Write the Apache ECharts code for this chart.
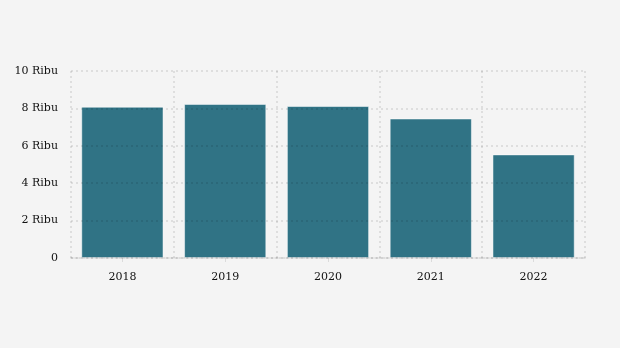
<!DOCTYPE html>
<html><head><meta charset="utf-8">
<script src="https://cdn.jsdelivr.net/npm/echarts@6/dist/echarts.min.js"></script>
<style>html,body{margin:0;padding:0;background:#f4f4f4;}#c{width:620px;height:348px;}</style>
</head><body><div id="c"></div>
<script>
const categories = ['2018', '2019', '2020', '2021', '2022'];
const values = [8090, 8240, 8130, 7460, 5540];
const yTicks = [0, 2000, 4000, 6000, 8000, 10000];

const chart = echarts.init(document.getElementById('c'), null, {renderer: 'canvas'});
const font = '"DejaVu Serif", serif';
chart.setOption({
  backgroundColor: '#f4f4f4',
  animation: false,
  grid: {left: 71, right: 35, top: 71, bottom: 90},
  xAxis: {
    type: 'category', data: categories, z: 3,
    axisLine: {show: true, lineStyle: {color: 'rgba(0,0,0,0.13)', type: [2, 2], width: 1.5}},
    axisTick: {show: true, alignWithLabel: true, length: 4, lineStyle: {color: 'rgba(0,0,0,0.1)'}},
    axisLabel: {color: '#111', fontFamily: font, fontSize: 11, margin: 14},
    splitLine: {show: true, lineStyle: {color: 'rgba(0,0,0,0.12)', type: [2, 3], width: 1.5}}
  },
  yAxis: {
    type: 'value', min: 0, max: 10000, interval: 2000, z: 3,
    axisLine: {show: false}, axisTick: {show: false},
    axisLabel: {color: '#111', fontFamily: font, fontSize: 11, margin: 13,
      formatter: v => yTicks.includes(v) ? (v === 0 ? '0' : (v / 1000) + ' Ribu') : ''},
    splitLine: {show: true, lineStyle: {color: 'rgba(0,0,0,0.12)', type: [2, 3], width: 1.5}}
  },
  series: [{
    type: 'bar', data: values, barWidth: '80%',
    itemStyle: {color: '#307385', borderColor: 'rgba(255,255,255,0.5)', borderWidth: 1}
  }]
});
</script></body></html>
